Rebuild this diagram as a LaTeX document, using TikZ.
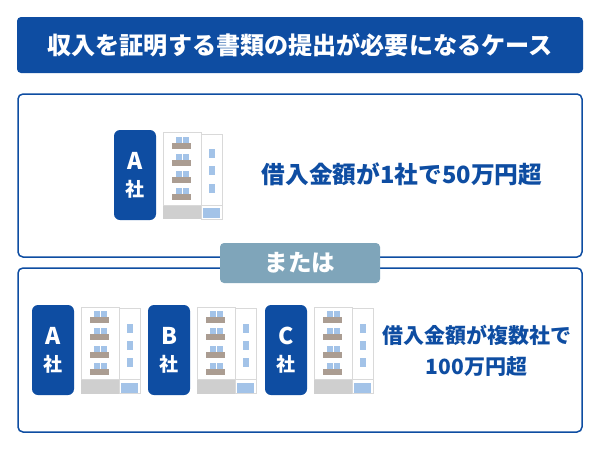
\documentclass[tikz,border=0pt]{standalone}
\usepackage{fontspec}
\setmainfont{Noto Sans CJK JP}
\usepackage{xcolor}
\usetikzlibrary{positioning}
\definecolor{navy}{HTML}{0E4DA2}
\definecolor{pillblue}{HTML}{7FA5BA}
\definecolor{winblue}{HTML}{A3C3E8}
\definecolor{balcony}{HTML}{AB9D92}
\definecolor{wallgray}{HTML}{D9D9D9}
\definecolor{basegray}{HTML}{CFCFCF}
\tikzset{
  building/.pic={
    % coordinates from the top left corner of the tall block
    \fill[basegray] (0,73) rectangle (38,87);
    \draw[wallgray, line width=1pt, fill=white] (38,2) rectangle (59.5,87);
    \draw[wallgray, line width=1pt, fill=white] (0.5,0.5) rectangle (38,73);
    \draw[wallgray, line width=1pt] (38,73) -- (59.5,73);
    \fill[winblue] (40,76) rectangle (57,86);
    \foreach \n in {0,1,2,3} {
      \fill[winblue] (12.5,4.5+17.3*\n) rectangle (18.5,11+17.3*\n);
      \fill[winblue] (19.5,4.5+17.3*\n) rectangle (25.5,11+17.3*\n);
      \fill[balcony] (9,10.5+17.3*\n) rectangle (28,16.5+17.3*\n);
    }
    \foreach \n in {0,1,2}
      \fill[winblue] (46,17+17.3*\n) rectangle (51.5,26+17.3*\n);
  }
}
\begin{document}
\begin{tikzpicture}[
  x=1pt, y=-1pt, font=\bfseries,
  title/.style={fill=navy, rounded corners=4pt, text=white, font=\fontsize{24.1}{28}\bfseries, minimum width=566pt, minimum height=56pt, inner sep=0pt},
  frame/.style={draw=navy, line width=1.5pt, fill=white, rounded corners=5pt, minimum width=564pt, inner sep=0pt},
  pill/.style={fill=pillblue, rounded corners=4pt, text=white, font=\fontsize{23.5}{27}\bfseries, minimum width=160pt, minimum height=40pt, inner sep=0pt},
  badge/.style={fill=navy, rounded corners=6pt, text=white, align=center, font=\fontsize{23}{26}\bfseries, minimum width=42pt, minimum height=90pt, inner sep=0pt},
  amount/.style={text=navy, align=center, inner sep=0pt}]
  \path[use as bounding box, fill=white] (0,0) rectangle (600,450);
  \node[title] (head) at (300,45) {収入を証明する書類の提出が必要になるケース};
  \node[frame, minimum height=163pt] (upper) at (300,175.5) {};
  \node[frame, minimum height=164pt] (lower) at (300,350) {};
  \node[pill] (orbox) at (300,263) {または};
  % upper case
  \node[badge] (coa) at (135,175) {A\\[1pt]{\fontsize{19}{22}\bfseries 社}};
  \pic at (163,132) {building};
  \node[amount, font=\fontsize{23.7}{28}\bfseries] (single) at (402,174.5) {借入金額が1社で50万円超};
  % lower case
  \node[badge] (lowa) at (53,350) {A\\[1pt]{\fontsize{19}{22}\bfseries 社}};
  \pic at (81,306.5) {building};
  \node[badge] (lowb) at (169,350) {B\\[1pt]{\fontsize{19}{22}\bfseries 社}};
  \pic at (197,306.5) {building};
  \node[badge] (lowc) at (286,350) {C\\[1pt]{\fontsize{19}{22}\bfseries 社}};
  \pic at (314,306.5) {building};
  \node[amount, font=\fontsize{21}{31}\bfseries] (several) at (476.5,350.5) {借入金額が複数社で\\100万円超};
\end{tikzpicture}
\end{document}
